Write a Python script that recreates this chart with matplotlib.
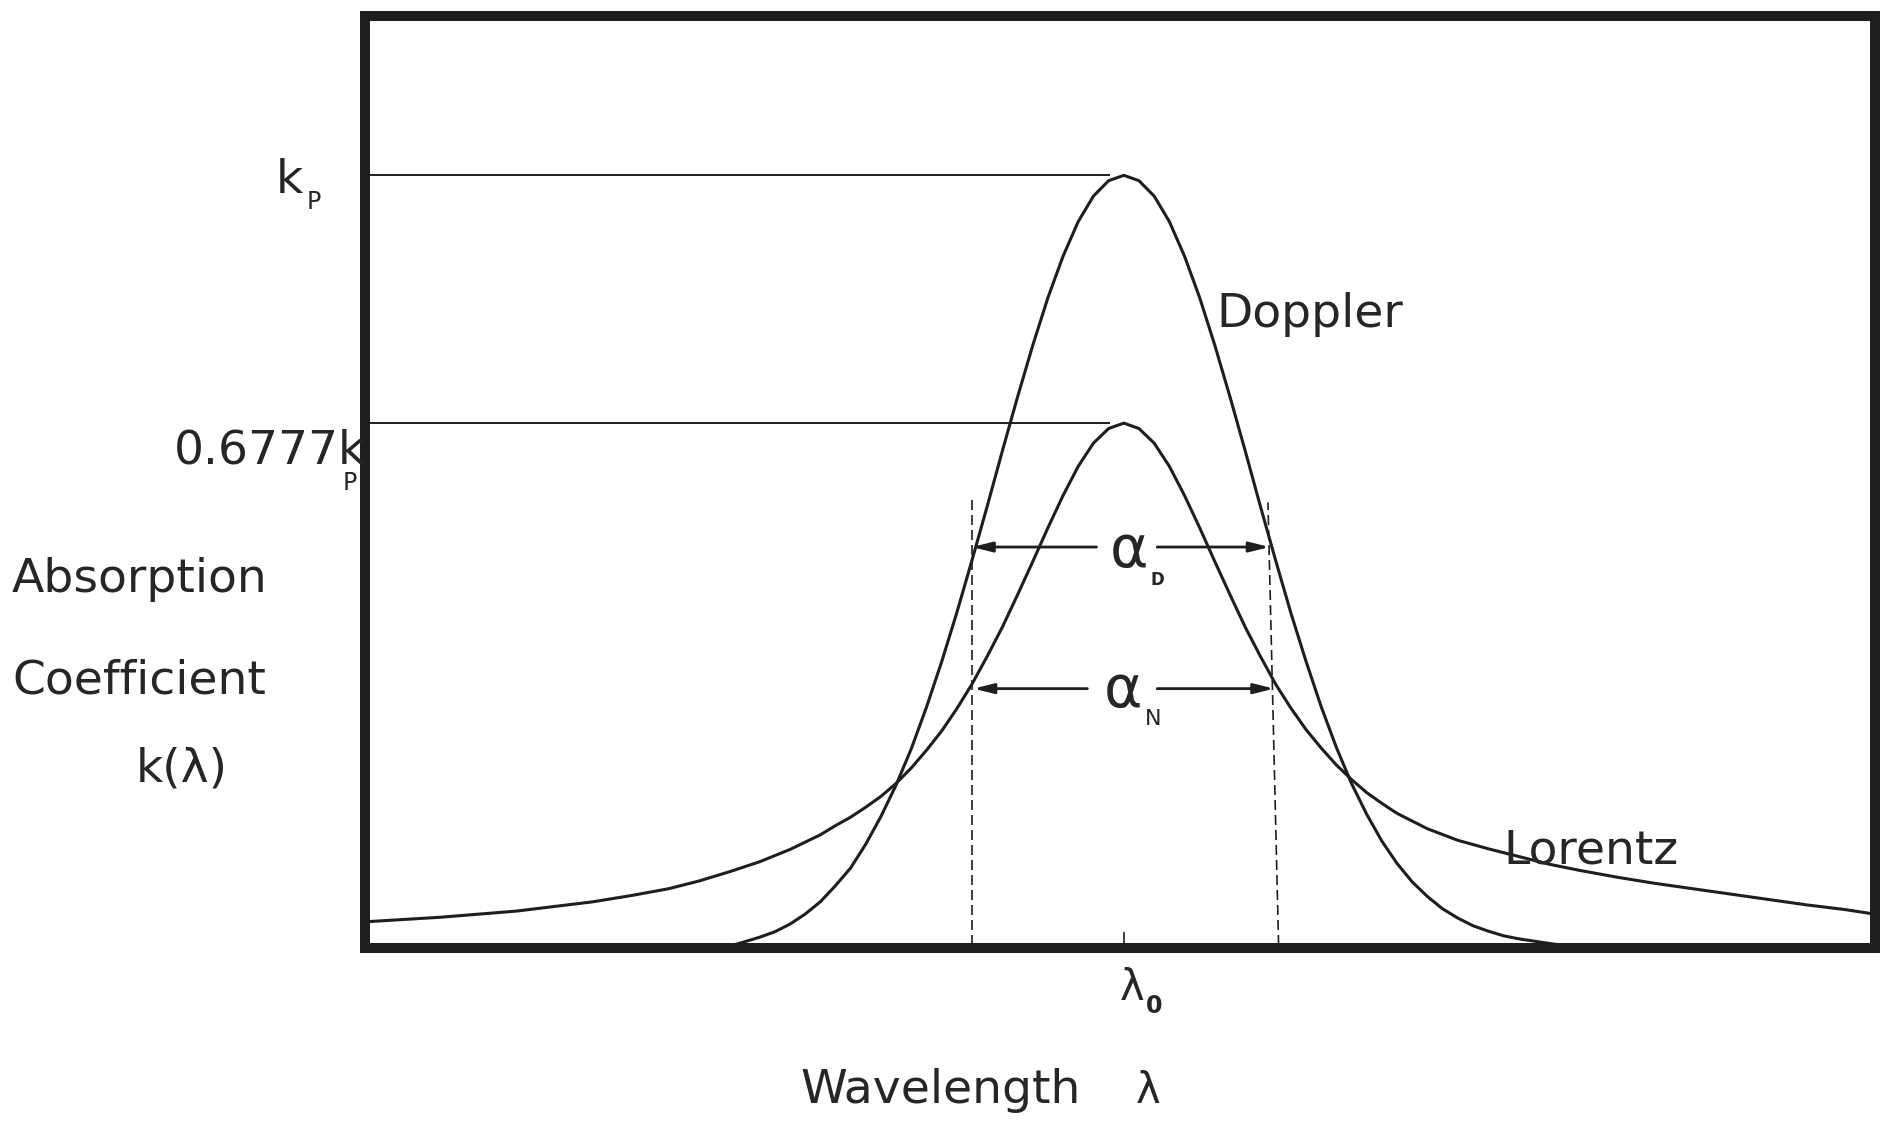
import matplotlib
matplotlib.use('Agg')
import matplotlib.pyplot as plt

# values
# x in units of the Doppler half width (lambda0 = 0), k in units of kP
doppler_x = [-2.57, -2.5, -2.4, -2.3, -2.2, -2.1, -2.0, -1.9, -1.8, -1.7, -1.6,
             -1.5, -1.4, -1.3, -1.2, -1.1, -1.0, -0.9, -0.8, -0.7, -0.6, -0.5,
             -0.4, -0.3, -0.2, -0.1, 0.0, 0.1, 0.2, 0.3, 0.4, 0.5, 0.6, 0.7,
             0.8, 0.9, 1.0, 1.1, 1.2, 1.3, 1.4, 1.5, 1.6, 1.7, 1.8, 1.9, 2.0,
             2.1, 2.2, 2.3, 2.4, 2.5, 2.6, 2.7, 2.8, 2.88]
doppler_k = [0.0, 0.004, 0.010, 0.017, 0.027, 0.040, 0.056, 0.077, 0.100, 0.131,
             0.167, 0.208, 0.255, 0.309, 0.368, 0.432, 0.500, 0.570, 0.642, 0.712,
             0.779, 0.841, 0.895, 0.940, 0.973, 0.993, 1.000, 0.993, 0.973, 0.940,
             0.895, 0.841, 0.779, 0.712, 0.642, 0.570, 0.500, 0.432, 0.369, 0.310,
             0.257, 0.210, 0.170, 0.135, 0.106, 0.082, 0.063, 0.047, 0.035, 0.025,
             0.018, 0.012, 0.008, 0.005, 0.002, 0.0]

lorentz_x = [-5.0, -4.75, -4.5, -4.25, -4.0, -3.75, -3.5, -3.25, -3.0, -2.8, -2.6,
             -2.4, -2.2, -2.0, -1.9, -1.8, -1.7, -1.6, -1.5, -1.4, -1.3, -1.2,
             -1.1, -1.0, -0.9, -0.8, -0.7, -0.6, -0.5, -0.4, -0.3, -0.2, -0.1,
             0.0, 0.1, 0.2, 0.3, 0.4, 0.5, 0.6, 0.7, 0.8, 0.9, 1.0, 1.1, 1.2,
             1.3, 1.4, 1.5, 1.6, 1.7, 1.8, 2.0, 2.2, 2.4, 2.6, 2.8, 3.0, 3.25,
             3.5, 3.75, 4.0, 4.25, 4.5, 4.75, 4.95]
lorentz_k = [0.030, 0.033, 0.036, 0.040, 0.044, 0.050, 0.056, 0.064, 0.073, 0.083,
             0.095, 0.108, 0.124, 0.143, 0.155, 0.166, 0.179, 0.193, 0.210, 0.230,
             0.253, 0.278, 0.307, 0.339, 0.375, 0.413, 0.455, 0.498, 0.542, 0.584,
             0.622, 0.652, 0.671, 0.678, 0.671, 0.652, 0.622, 0.584, 0.542, 0.498,
             0.455, 0.413, 0.375, 0.339, 0.308, 0.280, 0.256, 0.234, 0.215, 0.198,
             0.184, 0.171, 0.151, 0.136, 0.125, 0.115, 0.105, 0.097, 0.088, 0.080,
             0.073, 0.066, 0.059, 0.052, 0.046, 0.040]

k_peak = 1.0
k_lorentz_peak = 0.6777
guide_end_x = -0.1

dash_left_x, dash_left_k = [-1.0, -1.0], [0.0, 0.585]
dash_right_x, dash_right_k = [1.02, 0.95], [0.0, 0.575]

alpha_d_k = 0.517
alpha_d_ends = [-1.0, -0.18, 0.22, 0.96]
alpha_n_k = 0.333
alpha_n_ends = [-0.99, -0.24, 0.22, 0.99]

W, H = 1884, 1121
ink = '#1e1e1e'
txt = '#262626'


def px(x, y):
    # pixel position in the reference -> figure fraction
    return x / W, 1 - y / H


fig = plt.figure(figsize=(W / 100, H / 100), dpi=100)
ax = fig.add_axes([365 / W, 1 - 948 / H, (1875 - 365) / W, (948 - 16) / H])
ax.set_xlim(-5.0, 4.95)
ax.set_ylim(-0.004, 1.207)
ax.set_xticks([])
ax.set_yticks([])
for s in ax.spines.values():
    s.set_linewidth(7.2)
    s.set_color(ink)
    s.set_capstyle('projecting')

# curves
ax.plot(doppler_x, doppler_k, color=ink, lw=2.2, solid_joinstyle='round')
ax.plot(lorentz_x, lorentz_k, color=ink, lw=2.2, solid_joinstyle='round')

# guide lines to the peaks
ax.plot([-5.0, guide_end_x], [k_peak, k_peak], color=ink, lw=1.4)
ax.plot([-5.0, guide_end_x], [k_lorentz_peak, k_lorentz_peak], color=ink, lw=1.4)

# half width markers
ax.plot(dash_left_x, dash_left_k, color=ink, lw=1.2, ls=(0, (6, 3)))
ax.plot(dash_right_x, dash_right_k, color=ink, lw=1.2, ls=(0, (6, 3)))
ax.plot([0, 0], [0, 0.016], color=ink, lw=1.2)

arrow = dict(arrowstyle='-|>,head_length=0.6,head_width=0.15', color=ink,
             lw=2.0, mutation_scale=20, shrinkA=0, shrinkB=0)
for k, ends in [(alpha_d_k, alpha_d_ends), (alpha_n_k, alpha_n_ends)]:
    ax.annotate('', xy=(ends[0], k), xytext=(ends[1], k), arrowprops=arrow)
    ax.annotate('', xy=(ends[3], k), xytext=(ends[2], k), arrowprops=arrow)

# labels
big = 34
fig.text(*px(12, 592), 'Absorption', fontsize=big, color=txt, va='baseline')
fig.text(*px(12, 693), 'Coefficient', fontsize=big, color=txt, va='baseline')
fig.text(*px(182, 782), 'k(λ)', fontsize=big, color=txt, va='baseline', ha='center')

fig.text(*px(276, 193), 'k', fontsize=big, color=txt, va='baseline')
fig.text(*px(307, 209), 'P', fontsize=17, color=txt, va='baseline')
fig.text(*px(174, 463), '0.6777k', fontsize=big, color=txt, va='baseline')
fig.text(*px(343, 490), 'P', fontsize=17, color=txt, va='baseline')

fig.text(*px(1216, 327), 'Doppler', fontsize=big, color=txt, va='baseline')
fig.text(*px(1503, 863), 'Lorentz', fontsize=big, color=txt, va='baseline')

fig.text(*px(1110, 567), 'α', fontsize=42, color=txt, va='baseline')
fig.text(*px(1151, 585), 'D', fontsize=12, color=txt, va='baseline', fontweight='bold')
fig.text(*px(1104, 707), 'α', fontsize=42, color=txt, va='baseline')
fig.text(*px(1145, 725), 'N', fontsize=16, color=txt, va='baseline')

fig.text(*px(1120, 1000), 'λ', fontsize=30, color=txt, va='baseline')
fig.text(*px(1146, 1013), '0', fontsize=17, color=txt, va='baseline', fontweight='bold')

fig.text(*px(800, 1103), 'Wavelength', fontsize=big, color=txt, va='baseline')
fig.text(*px(1136, 1103), 'λ', fontsize=30, color=txt, va='baseline')

plt.savefig('out.png', dpi=100)
